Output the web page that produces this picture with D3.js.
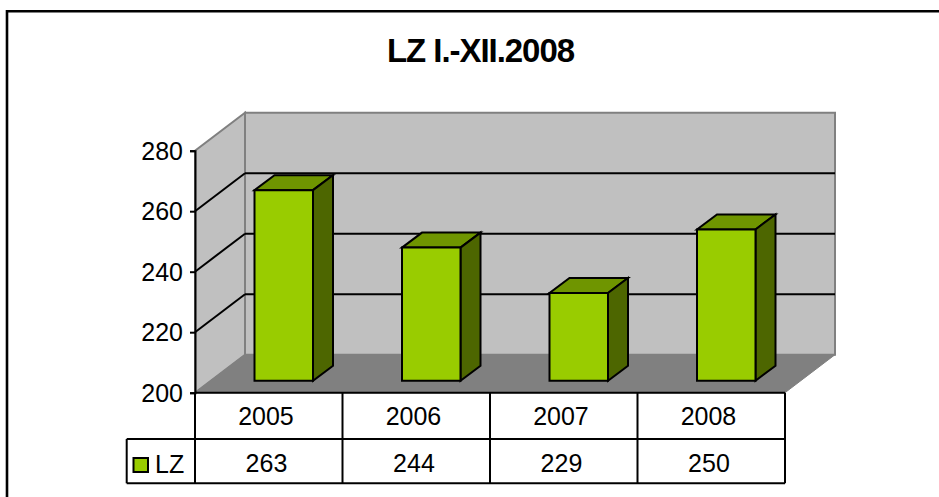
<!DOCTYPE html>
<html><head><meta charset="utf-8">
<style>html,body{margin:0;padding:0;background:#fff}svg{display:block}text{font-family:"Liberation Sans",Arial,sans-serif;fill:#000}</style>
<script src="https://cdn.jsdelivr.net/npm/d3@7/dist/d3.min.js"></script>
</head><body><svg id="c" width="939" height="497"></svg>
<script>
const categories = ["2005","2006","2007","2008"];
const seriesName = "LZ";
const values = [263,244,229,250];
const yTicks = [200,220,240,260,280];
const gridTicks = [220,240,260];
const chartTitle = "LZ I.-XII.2008";

const svg = d3.select("#c");
const W = 939, H = 497;
const dx = 50, dy = -38;
const barDx = 20, barDy = -15, barBase = -12, barW = 58.5, barOff = 59.5;
const x = d3.scaleBand().domain(categories).range([195,785]);
const y = d3.scaleLinear().domain([200,280]).range([392.7,150.7]);
const poly = (pts,fill,stroke,sw)=>svg.append("polygon").attr("points",pts.map(p=>p.join(",")).join(" "))
  .attr("fill",fill).attr("stroke",stroke||"none").attr("stroke-width",sw||0).attr("stroke-linejoin","miter");
const line = (x1,y1,x2,y2,c,sw)=>svg.append("line").attr("x1",x1).attr("y1",y1).attr("x2",x2).attr("y2",y2)
  .attr("stroke",c||"#000").attr("stroke-width",sw||2);

// chart frame: open at the right and bottom
svg.append("path").attr("d",`M7,${H} V11.3 H${W}`).attr("fill","none").attr("stroke","#000").attr("stroke-width",2.6);

svg.append("text").attr("x",480.5).attr("y",62).attr("text-anchor","middle")
  .attr("font-size",33).attr("font-weight","bold").attr("letter-spacing",-1.05).text(chartTitle);

const x0 = x.range()[0], x1 = x.range()[1];
const y0 = y(200), yT = y(280);
// walls and floor
poly([[x0+dx,y0+dy],[x1+dx,y0+dy],[x1+dx,yT+dy],[x0+dx,yT+dy]],"#C0C0C0","#808080",2);
poly([[x0,y0],[x0+dx,y0+dy],[x0+dx,yT+dy],[x0,yT]],"#C0C0C0","#808080",2);
poly([[x0,y0],[x1,y0],[x1+dx,y0+dy],[x0+dx,y0+dy]],"#808080","#808080",1);

// gridlines on both walls
gridTicks.forEach(t=>{
  line(x0,y(t),x0+dx,y(t)+dy,"#000",2);
  line(x0+dx,y(t)+dy,x1+dx,y(t)+dy,"#000",2);
});

// bars
categories.forEach((c,i)=>{
  const l = x(c)+barOff, r = l+barW, b = y0+barBase, t = y(values[i])+barBase;
  poly([[l,t],[r,t],[r+barDx,t+barDy],[l+barDx,t+barDy]],"#6F9500","#000",2);
  poly([[r,t],[r+barDx,t+barDy],[r+barDx,b+barDy],[r,b]],"#4D6600","#000",2);
  poly([[l,t],[r,t],[r,b],[l,b]],"#99CC00","#000",2);
});

// value axis
const ax = svg.append("g").attr("transform",`translate(${x0},0)`)
  .call(d3.axisLeft(y).tickValues(yTicks).tickSize(5).tickPadding(7).tickFormat(d3.format("d")));
ax.selectAll("text").attr("font-size",25).attr("font-family",'"Liberation Sans",Arial,sans-serif').attr("dy","0.34em");
ax.selectAll("line").attr("stroke","#000").attr("stroke-width",2);
ax.select(".domain").attr("stroke","#000").attr("stroke-width",2);

// data table
const rowA = 392.7, rowB = 439, rowC = 483.3, legL = 126.7;
line(x0,rowA,x1,rowA,"#000",2);
line(legL,rowB,x1,rowB,"#000",2);
line(legL,rowC,x1,rowC,"#000",2);
line(legL,rowB,legL,rowC,"#000",2);
line(x0,rowA,x0,rowC,"#000",2);
categories.forEach(c=>{ const e=x(c)+x.bandwidth(); line(e,rowA,e,rowC,"#000",2); });
svg.append("g").selectAll("text").data(categories).join("text")
  .attr("x",c=>x(c)+x.bandwidth()/2-2.8).attr("y",424.5).attr("text-anchor","middle").attr("font-size",25).text(c=>c);
svg.append("g").selectAll("text").data(values).join("text")
  .attr("x",(d,i)=>x(categories[i])+x.bandwidth()/2-2.3).attr("y",472).attr("text-anchor","middle").attr("font-size",25).text(d=>d);
svg.append("rect").attr("x",133.5).attr("y",458).attr("width",14.5).attr("height",14).attr("fill","#99CC00").attr("stroke","#000").attr("stroke-width",2);
svg.append("text").attr("x",155).attr("y",473).attr("font-size",25).text(seriesName);
</script></body></html>
